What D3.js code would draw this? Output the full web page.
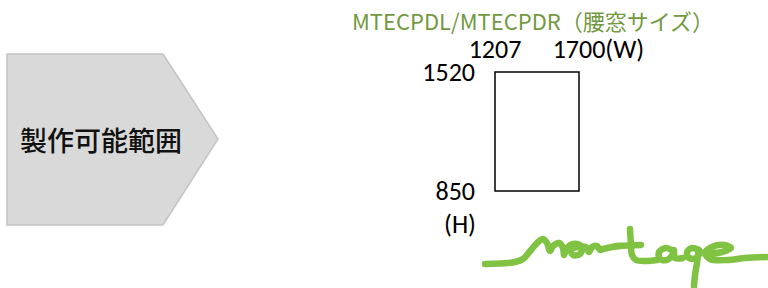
<!DOCTYPE html>
<html>
<head>
<meta charset="utf-8">
<script src="https://cdn.jsdelivr.net/npm/d3@7"></script>
<style>
  body { margin: 0; background: #fff; }
  svg { display: block; }
</style>
</head>
<body>
<div id="chart"></div>
<script>
// size range data
var widthRange = [1207, 1700];
var heightRange = [850, 1520];
var widthUnit = "(W)";
var heightUnit = "(H)";
var titleText = "MTECPDL/MTECPDR（腰窓サイズ）";
var badgeText = "製作可能範囲";

var w = 768, h = 288;

var svg = d3.select("#chart").append("svg")
    .attr("width", w)
    .attr("height", h);

// left arrow badge
var badge = [[7, 54], [163, 54], [218, 139], [163, 225], [7, 225]];
svg.append("path")
    .attr("d", d3.line()(badge) + "Z")
    .style("fill", "#d9d9d9")
    .style("stroke", "#c4c4c4")
    .style("stroke-width", 1.5);

var bt = svg.append("text")
    .attr("x", 101)
    .attr("y", 151)
    .attr("text-anchor", "middle")
    .style("font-family", "'Noto Sans CJK JP'")
    .style("font-size", "27px")
    .style("font-weight", 500)
    .style("fill", "#111")
    .text(badgeText);
var btl = bt.node().getComputedTextLength();
bt.style("font-size", (27 * 162 / btl) + "px");

// title, sized to fill its width
var title = svg.append("text")
    .attr("x", 352)
    .attr("y", 30)
    .style("font-family", "'Noto Sans CJK JP'")
    .style("font-size", "20px")
    .style("fill", "#72993f")
    .text(titleText);
var tl = title.node().getComputedTextLength();
title.style("font-size", Math.min(22, 20 * 372 / tl) + "px");

// scales
var x = d3.scaleLinear().domain(widthRange).range([495, 579]);
var y = d3.scaleLinear().domain(heightRange).range([191, 72]);

svg.append("rect")
    .attr("x", x(widthRange[0]))
    .attr("y", y(heightRange[1]))
    .attr("width", x(widthRange[1]) - x(widthRange[0]))
    .attr("height", y(heightRange[0]) - y(heightRange[1]))
    .style("fill", "none")
    .style("stroke", "#000")
    .style("stroke-width", 1.5);

var numFont = "Carlito, Lato, sans-serif";
var numSize = "26px";

// width labels
svg.selectAll("text.wlab")
    .data(widthRange)
    .enter().append("text")
    .attr("class", "wlab")
    .attr("x", function(d) { return x(d); })
    .attr("y", y(heightRange[1]) - 14)
    .attr("text-anchor", "middle")
    .style("font-family", numFont)
    .style("font-size", numSize)
    .style("fill", "#000")
    .text(function(d) { return d; });

var lastW = svg.selectAll("text.wlab").filter(function(d, i) { return i == 1; }).node();
var bb = lastW.getBBox();
svg.append("text")
    .attr("x", bb.x + bb.width)
    .attr("y", y(heightRange[1]) - 14)
    .style("font-family", numFont)
    .style("font-size", numSize)
    .style("fill", "#000")
    .text(widthUnit);

// height labels
svg.selectAll("text.hlab")
    .data(heightRange)
    .enter().append("text")
    .attr("class", "hlab")
    .attr("x", x(widthRange[0]) - 20)
    .attr("y", function(d) { return y(d) + 9; })
    .attr("text-anchor", "end")
    .style("font-family", numFont)
    .style("font-size", numSize)
    .style("fill", "#000")
    .text(function(d) { return d; });

svg.append("text")
    .attr("x", x(widthRange[0]) - 19)
    .attr("y", y(heightRange[0]) + 42)
    .attr("text-anchor", "end")
    .style("font-family", numFont)
    .style("font-size", numSize)
    .style("fill", "#000")
    .text(heightUnit);

// logo (hand drawn script)
var logo = svg.append("g")
    .style("fill", "none")
    .style("stroke", "#80c342")
    .style("stroke-width", 6.5)
    .style("stroke-linecap", "round")
    .style("stroke-linejoin", "round");

var curve = d3.line().curve(d3.curveCatmullRom.alpha(0.5));
var strokes = [
  // m o n
  [[485, 264], [515, 262], [523, 259], [531, 250], [538, 242], [543, 239], [547, 243],
   [550, 251], [553, 246], [559, 243], [563, 248], [564, 255], [566, 250], [570, 245],
   [577, 244], [582, 248], [580, 254], [573, 255], [571, 249], [578, 247], [586, 247],
   [589, 252], [592, 247], [597, 246], [600, 250], [603, 249], [612, 247], [620, 246]],
  // t
  [[630, 229], [631, 245], [632, 255], [636, 260], [645, 261], [657, 260]],
  [[616, 246], [641, 245]],
  // a
  [[673, 251], [666, 248], [659, 252], [660, 259], [667, 260], [673, 254], [674, 250],
   [675, 258], [683, 258]],
  // g
  [[699, 250], [692, 248], [687, 252], [689, 258], [696, 258], [700, 252], [699, 250],
   [697, 263], [695, 275], [694, 286]],
  // e
  [[706, 254], [722, 252], [731, 248], [724, 245], [712, 247], [705, 253], [710, 259],
   [728, 260], [745, 258], [768, 257]]
];
logo.selectAll("path")
    .data(strokes)
    .enter().append("path")
    .attr("d", function(d) { return curve(d); });
</script>
</body>
</html>
